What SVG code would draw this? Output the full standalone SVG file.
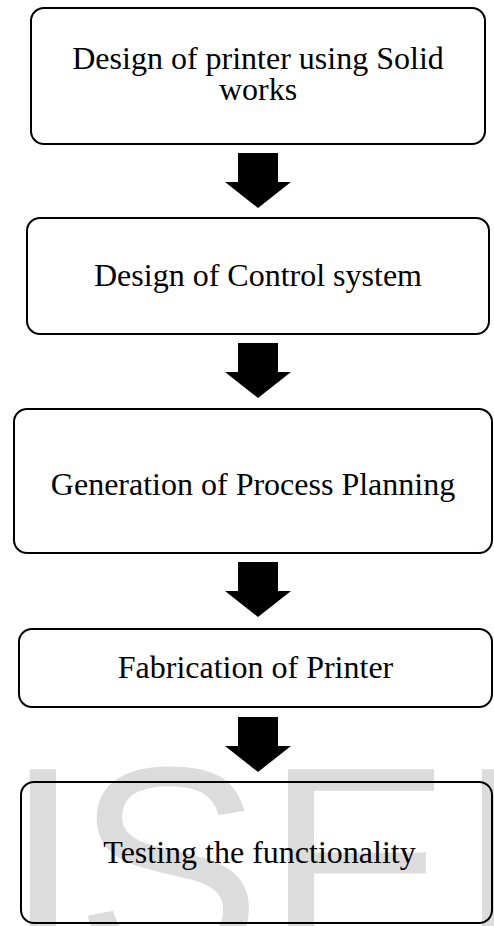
<svg xmlns="http://www.w3.org/2000/svg" width="494" height="926" viewBox="0 0 494 926">
  <style>
    .box { fill: none; stroke: #000; stroke-width: 2; }
    .label { font-family: "Liberation Serif", "Times New Roman", serif; font-size: 32px; fill: #000; text-anchor: middle; }
    .arrow { fill: #000; stroke: none; }
    .mark { font-family: "Liberation Sans", Arial, sans-serif; font-size: 280px; fill: #dcdcdc; }
  </style>
  <defs>
    <!-- block arrow pointing down, tip at (0,0) -->
    <path id="down" d="M-20,-55 H20 V-26 H33 L0,0 L-33,-26 H-20 Z"/>
  </defs>

  <rect width="494" height="926" fill="#fff"/>

  <!-- background stamp lettering -->
  <g id="stamp">
    <text class="mark" x="4 75 265 459" y="962">ISER</text>
  </g>

  <g id="connectors" class="arrow">
    <use href="#down" x="258" y="208"/>
    <use href="#down" x="258" y="398"/>
    <use href="#down" x="258" y="617"/>
    <use href="#down" x="258" y="772"/>
  </g>

  <g id="step1">
    <rect class="box" x="31" y="8" width="454" height="136" rx="13"/>
    <text class="label" x="258" y="69">Design of printer using Solid</text>
    <text class="label" x="258" y="100">works</text>
  </g>

  <g id="step2">
    <rect class="box" x="27" y="218" width="462" height="116" rx="13"/>
    <text class="label" x="258" y="286">Design of Control system</text>
  </g>

  <g id="step3">
    <rect class="box" x="14" y="409" width="478" height="144" rx="13"/>
    <text class="label" x="253" y="495">Generation of Process Planning</text>
  </g>

  <g id="step4">
    <rect class="box" x="19" y="629" width="473" height="78" rx="13"/>
    <text class="label" x="255.5" y="678">Fabrication of Printer</text>
  </g>

  <g id="step5">
    <rect class="box" x="21" y="782" width="471" height="141" rx="13"/>
    <text class="label" x="259.5" y="863">Testing the functionality</text>
  </g>
</svg>
